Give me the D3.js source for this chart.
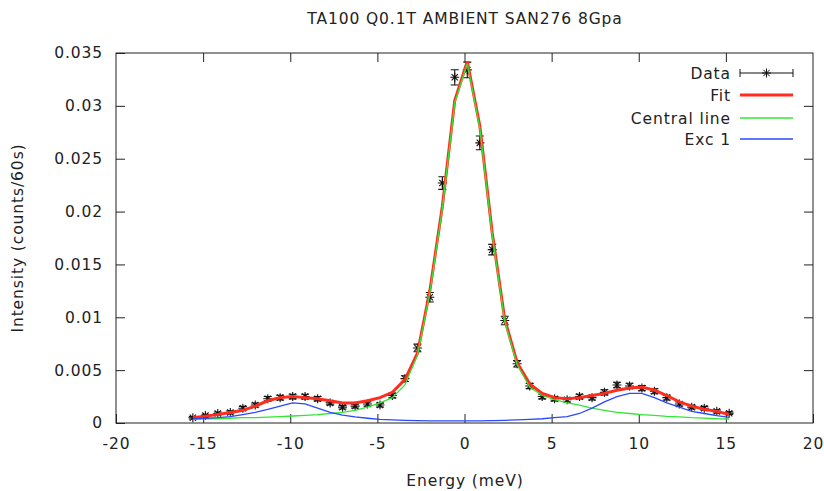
<!DOCTYPE html>
<html>
<head>
<meta charset="utf-8">
<script src="https://cdn.jsdelivr.net/npm/d3@7"></script>
<style>
  body { margin: 0; background: #fff; }
  text { font-family: "DejaVu Sans", sans-serif; fill: #222; letter-spacing: 0.9px; }
</style>
</head>
<body>
<svg id="chart"></svg>
<script>
// energy transfer of each measured point (meV)
const energy = [-15.59, -14.87, -14.16, -13.44, -12.72, -12.01, -11.29, -10.58, -9.86, -9.15,
  -8.43, -7.71, -7.00, -6.28, -5.57, -4.85, -4.14, -3.42, -2.70, -1.99,
  -1.27, -0.56, 0.16, 0.88, 1.59, 2.31, 3.02, 3.74, 4.46, 5.17,
  5.89, 6.60, 7.32, 8.03, 8.75, 9.47, 10.18, 10.90, 11.61, 12.33,
  13.04, 13.76, 14.48, 15.19];

// measured intensity and its error
const counts = [0.0005, 0.0007, 0.0009, 0.0010, 0.0014, 0.0017, 0.0023, 0.0024, 0.0025, 0.0025,
  0.0023, 0.0019, 0.0015, 0.0016, 0.0018, 0.0017, 0.0026, 0.0042, 0.0071, 0.0119,
  0.0227, 0.0327, 0.0334, 0.0265, 0.0164, 0.0097, 0.0056, 0.0035, 0.0025, 0.0023,
  0.0022, 0.0025, 0.0024, 0.0029, 0.0036, 0.0035, 0.0033, 0.0030, 0.0024, 0.0018,
  0.0015, 0.0014, 0.0011, 0.00093];
const errs = [0.00012, 0.00013, 0.00014, 0.00015, 0.00017, 0.00019, 0.00021, 0.00022, 0.00022, 0.00022,
  0.00021, 0.00019, 0.00017, 0.00018, 0.00019, 0.00018, 0.00022, 0.00027, 0.00036, 0.00045,
  0.0006, 0.00072, 0.00074, 0.00065, 0.0005, 0.0004, 0.0003, 0.00025, 0.00022, 0.00021,
  0.00021, 0.00022, 0.00022, 0.00024, 0.00026, 0.00026, 0.00025, 0.00024, 0.00022, 0.00019,
  0.00017, 0.00017, 0.00015, 0.00013];

// fitted model and its two components, at the same energies
const fit = [0.0005, 0.00065, 0.0008, 0.0010, 0.0012, 0.0016, 0.0021, 0.0024, 0.0025, 0.0024,
  0.0023, 0.0021, 0.0019, 0.0019, 0.0021, 0.0024, 0.0029, 0.0041, 0.0066, 0.0125,
  0.0205, 0.0305, 0.0342, 0.0281, 0.0180, 0.0098, 0.0057, 0.0037, 0.0028, 0.0024,
  0.0023, 0.0024, 0.0026, 0.0028, 0.0031, 0.0033, 0.0034, 0.0031, 0.0026, 0.0020,
  0.0016, 0.0013, 0.0011, 0.0008];
const central = [0.00035, 0.0004, 0.0004, 0.00045, 0.0005, 0.0005, 0.00055, 0.0006, 0.00066, 0.00073,
  0.0008, 0.0009, 0.0010, 0.0012, 0.0015, 0.0019, 0.0024, 0.0036, 0.0064, 0.0123,
  0.0203, 0.0303, 0.0340, 0.0279, 0.0178, 0.0096, 0.0055, 0.0034, 0.0026, 0.0022,
  0.0019, 0.0017, 0.0014, 0.0012, 0.0010, 0.0009, 0.0008, 0.00073, 0.00063, 0.00057,
  0.0005, 0.00047, 0.0004, 0.00038];
const exc1 = [0.0004, 0.00045, 0.0005, 0.0006, 0.0008, 0.0010, 0.0013, 0.0016, 0.0019, 0.0018,
  0.0014, 0.0010, 0.00075, 0.00057, 0.00045, 0.00035, 0.0003, 0.00025, 0.00022, 0.0002,
  0.0002, 0.0002, 0.0002, 0.0002, 0.00022, 0.00025, 0.0003, 0.00035, 0.0004, 0.0005,
  0.0006, 0.0009, 0.0014, 0.0020, 0.0025, 0.0028, 0.0028, 0.0024, 0.0019, 0.0015,
  0.0011, 0.0009, 0.0007, 0.00054];

const xTicks = [-20, -15, -10, -5, 0, 5, 10, 15, 20];
const yTicks = [0, 0.005, 0.01, 0.015, 0.02, 0.025, 0.03, 0.035];
const legendNames = ["Data", "Fit", "Central line", "Exc 1"];

const W = 824, H = 491;
const pL = 116, pR = 813, pT = 53, pB = 423;
const fs = "15.5px";

const svg = d3.select("#chart").attr("width", W).attr("height", H);

const x = d3.scaleLinear().domain([-20, 20]).range([pL, pR]);
const y = d3.scaleLinear().domain([0, 0.035]).range([pB, pT]);

// axes, ticks pointing inwards on all four sides
const tk = 9;
svg.append("g")
  .attr("transform", `translate(0,${pB})`)
  .call(d3.axisBottom(x).tickValues(xTicks).tickSize(-tk).tickPadding(15).tickFormat(d => String(d)));
svg.append("g")
  .attr("transform", `translate(0,${pT})`)
  .call(d3.axisTop(x).tickValues(xTicks.slice(1, -1)).tickSize(-tk).tickFormat(""));
svg.append("g")
  .attr("transform", `translate(${pL},0)`)
  .call(d3.axisLeft(y).tickValues(yTicks).tickSize(-tk).tickPadding(13).tickFormat(d => String(+d.toFixed(3))));
svg.append("g")
  .attr("transform", `translate(${pR},0)`)
  .call(d3.axisRight(y).tickValues(yTicks.slice(1, -1)).tickSize(-tk).tickFormat(""));

svg.selectAll(".domain").remove();
svg.selectAll(".tick line").attr("stroke", "#222");
svg.selectAll(".tick text").style("font-size", fs).style("font-family", "DejaVu Sans, sans-serif").attr("fill", "#222");

svg.append("rect")
  .attr("x", pL).attr("y", pT)
  .attr("width", pR - pL).attr("height", pB - pT)
  .attr("fill", "none").attr("stroke", "#222").attr("stroke-width", 1);

// titles
svg.append("text").attr("x", 465).attr("y", 24)
  .attr("text-anchor", "middle").style("font-size", fs)
  .text("TA100 Q0.1T AMBIENT SAN276 8Gpa");
svg.append("text").attr("x", 465).attr("y", 486)
  .attr("text-anchor", "middle").style("font-size", fs)
  .text("Energy (meV)");
svg.append("text").attr("transform", "translate(23,238) rotate(-90)")
  .attr("text-anchor", "middle").style("font-size", fs)
  .text("Intensity (counts/60s)");

const pts = energy.map((e, i) => ({ e, c: counts[i], s: errs[i] }));

// asterisk marker
const star = (cx, cy, r) =>
  `M${cx - r},${cy}H${cx + r}M${cx},${cy - r}V${cy + r}` +
  `M${cx - r * 0.7},${cy - r * 0.7}L${cx + r * 0.7},${cy + r * 0.7}` +
  `M${cx - r * 0.7},${cy + r * 0.7}L${cx + r * 0.7},${cy - r * 0.7}`;

// data with error bars
const dataG = svg.append("g").attr("stroke", "#111").attr("stroke-width", 1.1).attr("fill", "none");
dataG.selectAll("path.err")
  .data(pts)
  .join("path")
  .attr("class", "err")
  .attr("d", d => {
    const px = x(d.e), y0 = y(d.c - d.s), y1 = y(d.c + d.s);
    return `M${px},${y0}V${y1}M${px - 4},${y0}H${px + 4}M${px - 4},${y1}H${px + 4}`;
  });
dataG.selectAll("path.pt")
  .data(pts)
  .join("path")
  .attr("class", "pt")
  .attr("d", d => star(x(d.e), y(d.c), 4.5));

// fitted curves
const curves = [
  { vals: fit, color: "#ff2d1f", w: 3 },
  { vals: central, color: "#33e633", w: 1.3 },
  { vals: exc1, color: "#2a48ff", w: 1.3 }
];
const line = d3.line().x(d => x(d[0])).y(d => y(d[1]));
curves.forEach(c => {
  svg.append("path")
    .datum(energy.map((e, i) => [e, c.vals[i]]))
    .attr("d", line)
    .attr("fill", "none")
    .attr("stroke", c.color)
    .attr("stroke-width", c.w);
});

// legend
const legendY = [73, 95, 118, 139];
const lg = svg.append("g");
legendNames.forEach((name, i) => {
  lg.append("text").attr("x", 731).attr("y", legendY[i] + 5.5)
    .attr("text-anchor", "end").style("font-size", fs).text(name);
  if (i === 0) {
    lg.append("path")
      .attr("d", `M740,${legendY[i]}H793M740,${legendY[i] - 4}V${legendY[i] + 4}M793,${legendY[i] - 4}V${legendY[i] + 4}`)
      .attr("stroke", "#111").attr("fill", "none");
    lg.append("path").attr("d", star(766.5, legendY[i], 4.5)).attr("stroke", "#111").attr("fill", "none");
  } else {
    const c = curves[i - 1];
    lg.append("line").attr("x1", 740).attr("x2", 793)
      .attr("y1", legendY[i]).attr("y2", legendY[i])
      .attr("stroke", c.color).attr("stroke-width", c.w);
  }
});
</script>
</body>
</html>
